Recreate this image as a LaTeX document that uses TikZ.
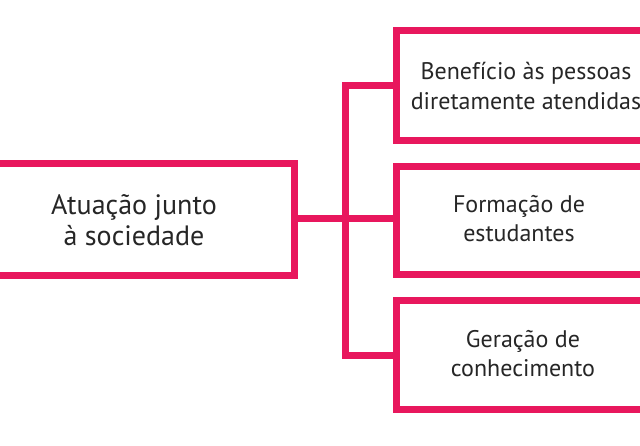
\documentclass[tikz,border=0pt]{standalone}
\usepackage{fontspec}
\setmainfont{PT Sans}
\definecolor{mag}{HTML}{E8175D}
\begin{document}
\begin{tikzpicture}[x=1pt,y=-1pt,
  bx/.style={draw=mag,line width=7pt},
  ln/.style={draw=mag,line width=7pt},
  lbl/.style={align=center,font=\fontsize{24}{29}\selectfont,text=black!85}]
\useasboundingbox (0,0) rectangle (640,445);
\clip (0,0) rectangle (640,445);
\fill[white] (0,0) rectangle (640,445);
\draw[bx] (-20,163) rectangle (294,275);
\draw[bx] (396,30) rectangle (660,140);
\draw[bx] (396,166) rectangle (660,274);
\draw[bx] (396,300) rectangle (660,409);
\coordinate (a) at (297,218);
\coordinate (j) at (345,218);
\coordinate (t) at (345,85);
\coordinate (b) at (345,355);
\draw[ln] (a) -- (j);
\draw[ln,line cap=rect] (t) -- (b);
\draw[ln] (t) -- (393,85);
\draw[ln] (j) -- (393,218);
\draw[ln] (b) -- (393,355);
\node[lbl,font=\fontsize{28}{31}\selectfont] (n0) at (134,220) {Atuação junto\\à sociedade};
\node[lbl] (n1) at (526,86) {Benefício às pessoas\\diretamente atendidas};
\node[lbl] (n2) at (519,219) {Formação de\\estudantes};
\node[lbl] (n3) at (523,354) {Geração de\\conhecimento};
\end{tikzpicture}
\end{document}
